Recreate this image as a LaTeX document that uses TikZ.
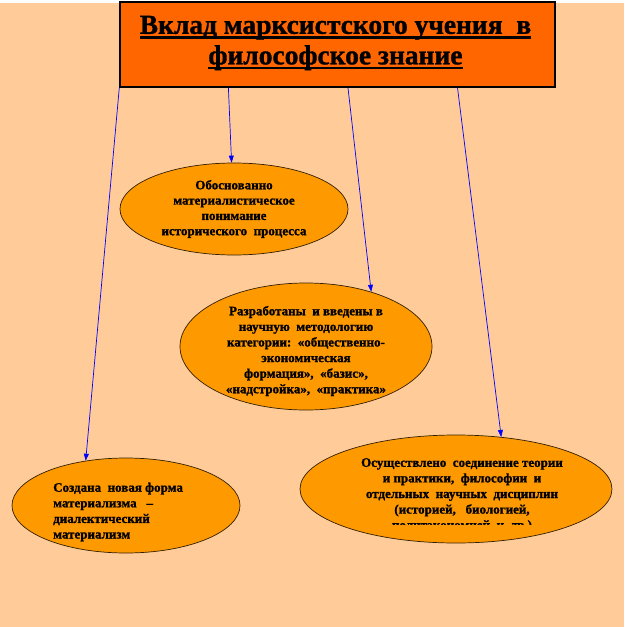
\documentclass[tikz,border=0pt]{standalone}
\usepackage{fontspec}
\setmainfont{Liberation Serif}[BoldFont={Liberation Serif Bold}, BoldFeatures={FakeBold=1.2}]
\usetikzlibrary{calc,shapes.geometric,arrows.meta}
\definecolor{peach}{HTML}{FFCC99}
\definecolor{titleorange}{HTML}{FF6600}
\definecolor{ovalorange}{HTML}{FF9900}
\newcommand{\ttlul}[1]{\setbox0\hbox{#1}\rlap{\rule[-5pt]{\wd0}{2.8pt}}\box0}
\tikzset{
	oval/.style={ellipse, draw=black!80!ovalorange, line width=0.7pt, fill=ovalorange, inner sep=0pt, align=center, font=\fontsize{13}{15.3}\selectfont\bfseries},
	ovaltext/.style={inner sep=0pt, font=\fontsize{13}{15.6}\selectfont\bfseries},
	feed/.style={blue, line width=0.7pt, -{Triangle[length=7pt,width=5pt]}}
}
\begin{document}
\begin{tikzpicture}[x=1pt, y=-1pt]
			%%%%% START %%%%%
			\useasboundingbox (0, 0) rectangle (627, 627);
			\fill[peach] (0, 3) rectangle (624, 627);
			
			\node[draw=black, line width=1.4pt, fill=titleorange, minimum width=435pt, minimum height=85pt, inner sep=0pt, align=center, font=\fontsize{27.5}{30.5}\selectfont\bfseries] (title) at (337.5, 44.5) {};
			\node[inner sep=0pt, align=center, font=\fontsize{27.5}{30.5}\selectfont\bfseries] (titletext) at (335.5, 43) {\ttlul{Вклад марксистского учения~~в}\\\ttlul{философское знание}};
			
			\node[oval, minimum width=228pt, minimum height=92pt] (mat) at (234, 209) {Обоснованно\\материалистическое\\понимание\\исторического~~процесса};
			
			\node[oval, minimum width=252pt, minimum height=127pt] (cat) at (306, 346.5) {};
			\node[ovaltext, align=center] (cattext) at (306, 351) {Разработаны~~и введены в\\научную~~методологию\\категории:~~«общественно-\\экономическая\\формация»,~~«базис»,\\«надстройка»,~~«практика»};
			
			\node[oval, minimum width=312pt, minimum height=108pt] (prax) at (456, 489) {};
			\begin{scope}
				\clip (300, 440) rectangle (612, 524.5);
				\node[ovaltext, align=center, anchor=north] (praxtext) at (462, 458) {Осуществлено~~соединение теории\\и практики,~~философии~~и\\отдельных~~научных~~дисциплин\\(историей,~~~биологией,\\политэкономией~~и~~др.)};
			\end{scope}
			
			\node[oval, minimum width=228pt, minimum height=95pt] (dia) at (126, 505.5) {};
			\node[ovaltext, align=left, anchor=west] (diatext) at (53, 512) {Создана~~новая форма\\материализма~~~–\\диалектический\\материализм};
			
			\draw[feed] (title.south west) -- (dia.132);
			\draw[feed] ($(title.south west)!0.25!(title.south east)$) -- (mat.93);
			\draw[feed] ($(title.south west)!0.524!(title.south east)$) -- (cat.40);
			\draw[feed] ($(title.south west)!0.775!(title.south east)$) -- (prax.49);
			
			%%%%% END %%%%%
\end{tikzpicture}
\end{document}
